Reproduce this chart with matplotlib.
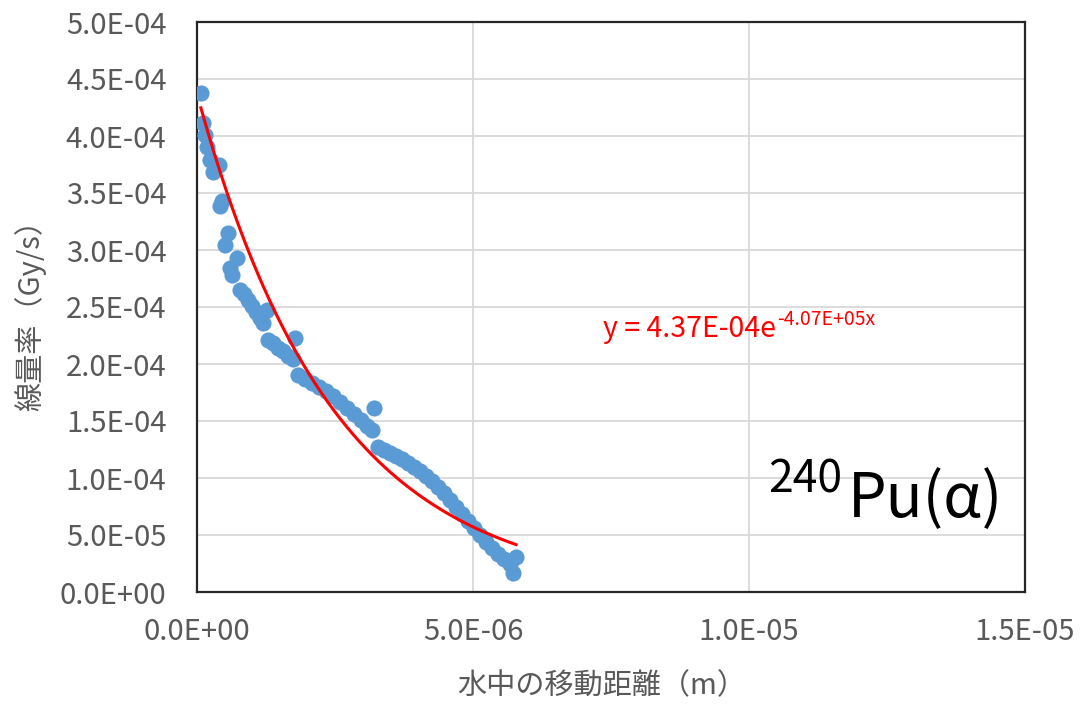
import matplotlib
matplotlib.use("Agg")
import matplotlib.pyplot as plt
from matplotlib.ticker import FuncFormatter, MultipleLocator
import numpy as np

plt.rcParams['font.family'] = ['Noto Sans CJK JP', 'DejaVu Sans']

# distance in water (1E-06 m) and dose rate (1E-04 Gy/s)
dist_um = [0.07, 0.11, 0.14, 0.18, 0.24, 0.29, 0.40, 0.42, 0.45, 0.56,
           0.51, 0.72, 0.60, 0.63, 0.78, 0.85, 0.92, 1.00, 1.07, 1.14,
           1.20, 1.27, 1.29, 1.38, 1.47, 1.56, 1.65, 1.74, 1.78, 1.83,
           1.96, 2.08, 2.21, 2.34, 2.46, 2.59, 2.72, 2.84, 2.97, 3.08,
           3.17, 3.21, 3.28, 3.39, 3.50, 3.61, 3.71, 3.82, 3.93, 4.04,
           4.15, 4.26, 4.37, 4.48, 4.58, 4.69, 4.80, 4.91, 5.02, 5.13,
           5.24, 5.35, 5.45, 5.56, 5.67, 5.78, 5.73]
dose_e4 = [4.38, 4.11, 4.01, 3.90, 3.79, 3.68, 3.75, 3.39, 3.43, 3.15,
           3.04, 2.93, 2.84, 2.78, 2.65, 2.61, 2.56, 2.51, 2.46, 2.40,
           2.36, 2.47, 2.21, 2.18, 2.14, 2.11, 2.07, 2.04, 2.23, 1.90,
           1.87, 1.83, 1.80, 1.76, 1.72, 1.67, 1.61, 1.56, 1.51, 1.46,
           1.42, 1.61, 1.27, 1.25, 1.22, 1.19, 1.17, 1.13, 1.10, 1.06,
           1.02, 0.97, 0.92, 0.87, 0.81, 0.75, 0.68, 0.62, 0.56, 0.50,
           0.44, 0.39, 0.33, 0.29, 0.25, 0.31, 0.17]

# exponential trendline shown on the chart
fit_a = 4.37e-4
fit_b = -4.07e5

x = np.array(dist_um) * 1e-6
y = np.array(dose_e4) * 1e-4

fig = plt.figure(figsize=(10.84, 7.07), dpi=100)
ax = fig.add_axes([197/1084, 1 - 592/707, 828/1084, 570/707])

ax.set_xlim(0, 1.5e-5)
ax.set_ylim(0, 5e-4)
ax.xaxis.set_major_locator(MultipleLocator(5e-6))
ax.yaxis.set_major_locator(MultipleLocator(5e-5))
fmt = FuncFormatter(lambda v, p: f"{v:.1E}")
ax.xaxis.set_major_formatter(fmt)
ax.yaxis.set_major_formatter(fmt)
ax.grid(True, color='#D9D9D9', linewidth=1.3)
ax.set_axisbelow(True)
ax.tick_params(length=0, labelsize=21, labelcolor='#595959')
ax.tick_params(axis='x', pad=18)
ax.tick_params(axis='y', pad=22)
for s in ax.spines.values():
    s.set_color('#262626')
    s.set_linewidth(1.6)

ax.scatter(x, y, s=135, color='#5B9BD5', zorder=3, linewidths=0)
xf = np.linspace(x.min(), x.max(), 200)
ax.plot(xf, fit_a * np.exp(fit_b * xf), color='#FF0000', linewidth=2.2, zorder=4)

fig.text(30/1084, 1 - 308/707, '線量率（Gy/s）', rotation=90, fontsize=21,
         color='#595959', ha='center', va='center')
fig.text(602/1084, 1 - 686/707, '水中の移動距離（m）', fontsize=21,
         color='#595959', ha='center', va='center')

eq = ax.text(0.490, 0.447, 'y = 4.37E-04e', transform=ax.transAxes,
             fontsize=20.5, color='#FF0000', ha='left', va='baseline')
ax.annotate('-4.07E+05x', xy=(1, 0), xycoords=eq, xytext=(1, 14),
            textcoords='offset points', fontsize=14, color='#FF0000',
            ha='left', va='baseline')

ax.text(0.690, 0.174, '240', transform=ax.transAxes, fontsize=32,
        color='black', ha='left', va='baseline')
ax.text(0.973, 0.132, 'Pu(α)', transform=ax.transAxes, fontsize=44,
        color='black', ha='right', va='baseline')

fig.savefig('out.png', dpi=100)
